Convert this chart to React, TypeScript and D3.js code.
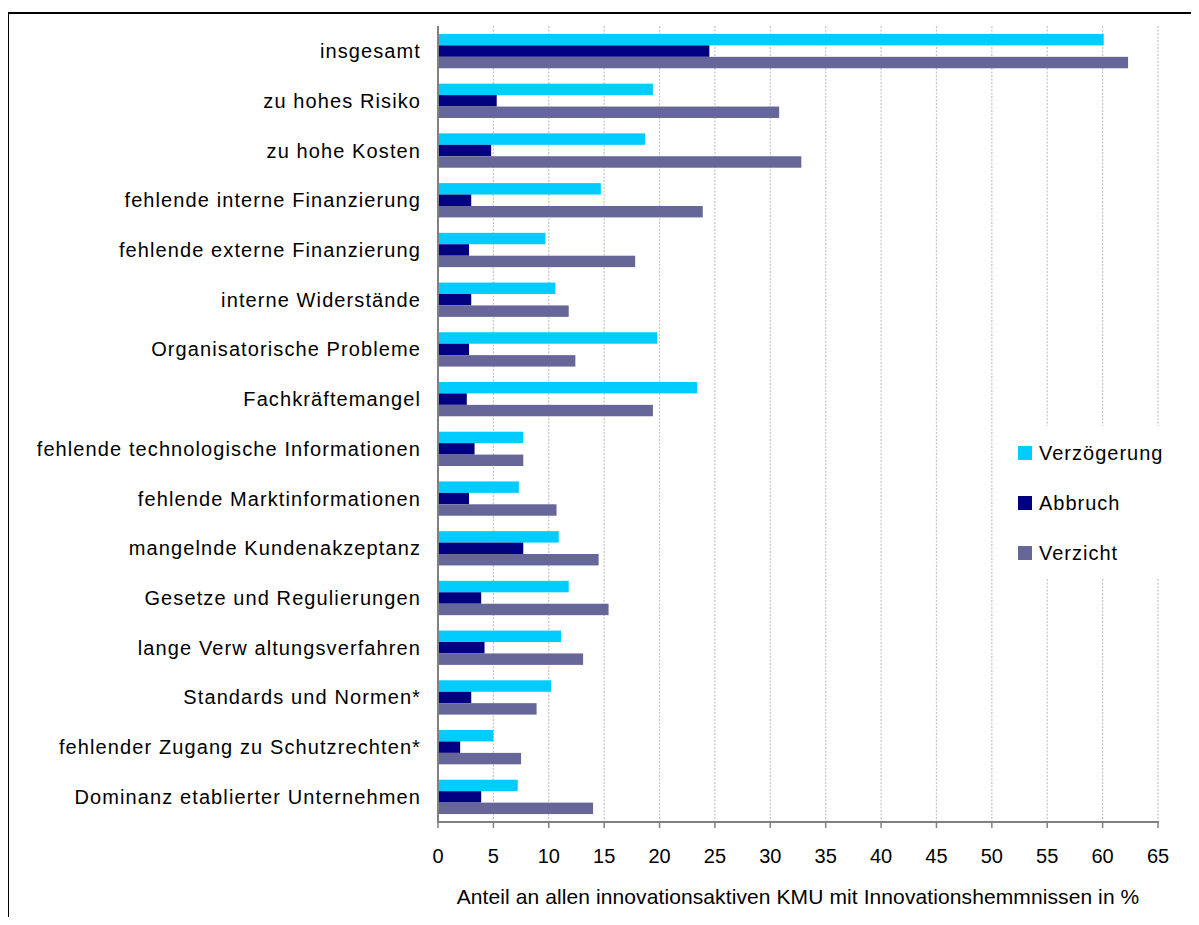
import React from "react";
import * as d3 from "d3";

const categories = [
  "insgesamt",
  "zu hohes Risiko",
  "zu hohe Kosten",
  "fehlende interne Finanzierung",
  "fehlende externe Finanzierung",
  "interne Widerstände",
  "Organisatorische Probleme",
  "Fachkräftemangel",
  "fehlende technologische Informationen",
  "fehlende Marktinformationen",
  "mangelnde Kundenakzeptanz",
  "Gesetze und Regulierungen",
  "lange Verw altungsverfahren",
  "Standards und Normen*",
  "fehlender Zugang zu Schutzrechten*",
  "Dominanz etablierter Unternehmen",
];

const verzoegerung = [60.1, 19.4, 18.7, 14.7, 9.7, 10.6, 19.8, 23.4, 7.7, 7.3, 10.9, 11.8, 11.1, 10.2, 5.0, 7.2];
const abbruch = [24.5, 5.3, 4.8, 3.0, 2.8, 3.0, 2.8, 2.6, 3.3, 2.8, 7.7, 3.9, 4.2, 3.0, 2.0, 3.9];
const verzicht = [62.3, 30.8, 32.8, 23.9, 17.8, 11.8, 12.4, 19.4, 7.7, 10.7, 14.5, 15.4, 13.1, 8.9, 7.5, 14.0];

const seriesNames = ["Verzögerung", "Abbruch", "Verzicht"];
const seriesColors = ["#00CCFF", "#000080", "#666699"];
const xTicks = [0, 5, 10, 15, 20, 25, 30, 35, 40, 45, 50, 55, 60, 65];
const axisTitle = "Anteil an allen innovationsaktiven KMU mit Innovationshemmnissen in %";

const FONT = "'Liberation Sans', Arial, sans-serif";

export default function App() {
  const W = 1199;
  const H = 925;
  const left = 438;
  const right = 1158;
  const top = 26;
  const bottom = 822;

  const x = d3.scaleLinear().domain([0, 65]).range([left, right]);
  const y = d3
    .scaleBand<string>()
    .domain(categories)
    .range([top, bottom])
    .paddingInner(0.31)
    .paddingOuter(0.16);
  const sub = d3
    .scaleBand<string>()
    .domain(seriesNames)
    .range([0, y.bandwidth()]);

  const allSeries = [verzoegerung, abbruch, verzicht];

  return (
    <div style={{ margin: "-8px" }}>
      <svg width={W} height={H} style={{ display: "block", background: "#fff" }}>
        {/* outer frame */}
        <rect x={8} y={13} width={W + 20} height={H + 20} fill="#fff" stroke="#000" strokeWidth={2} />

        {/* gridlines */}
        {xTicks.slice(1).map((t) => (
          <line
            key={"g" + t}
            x1={x(t)}
            x2={x(t)}
            y1={top}
            y2={bottom}
            stroke="#c4c4c4"
            strokeWidth={1.2}
            strokeDasharray="2,1.5"
          />
        ))}

        {/* bars */}
        {categories.map((c, i) => (
          <g key={c} transform={`translate(0,${y(c)})`}>
            {allSeries.map((s, k) => (
              <rect
                key={k}
                x={x(0)}
                y={sub(seriesNames[k])}
                width={x(s[i]) - x(0)}
                height={sub.bandwidth()}
                fill={seriesColors[k]}
              />
            ))}
          </g>
        ))}

        {/* axes */}
        <line x1={x(0)} x2={x(0)} y1={top} y2={bottom} stroke="#808080" strokeWidth={2} />
        <line x1={x(0) - 1} x2={x(65) + 1} y1={bottom} y2={bottom} stroke="#808080" strokeWidth={2} />
        {xTicks.map((t) => (
          <line key={"t" + t} x1={x(t)} x2={x(t)} y1={bottom} y2={bottom + 6} stroke="#808080" strokeWidth={1.5} />
        ))}

        {/* category labels */}
        {categories.map((c) => (
          <text
            key={"l" + c}
            x={421}
            y={(y(c) as number) + y.bandwidth() / 2}
            textAnchor="end"
            dominantBaseline="central"
            fontFamily={FONT}
            fontSize={20}
            letterSpacing={1.1}
            fill="#000"
          >
            {c}
          </text>
        ))}

        {/* tick labels */}
        {xTicks.map((t) => (
          <text
            key={"tl" + t}
            x={x(t)}
            y={856}
            textAnchor="middle"
            dominantBaseline="central"
            fontFamily={FONT}
            fontSize={20}
            fill="#000"
          >
            {t}
          </text>
        ))}

        {/* axis title */}
        <text
          x={(left + right) / 2}
          y={896}
          textAnchor="middle"
          dominantBaseline="central"
          fontFamily={FONT}
          fontSize={21}
          letterSpacing={0.1}
          fill="#000"
        >
          {axisTitle}
        </text>

        {/* legend */}
        <rect x={1002} y={426} width={170} height={153} fill="#fff" />
        {seriesNames.map((n, k) => (
          <g key={n} transform={`translate(1018,${446 + k * 50})`}>
            <rect x={0} y={0} width={14} height={14} fill={seriesColors[k]} />
            <text
              x={21}
              y={14}
              fontFamily={FONT}
              fontSize={20}
              letterSpacing={1}
              fill="#000"
            >
              {n}
            </text>
          </g>
        ))}
      </svg>
    </div>
  );
}
